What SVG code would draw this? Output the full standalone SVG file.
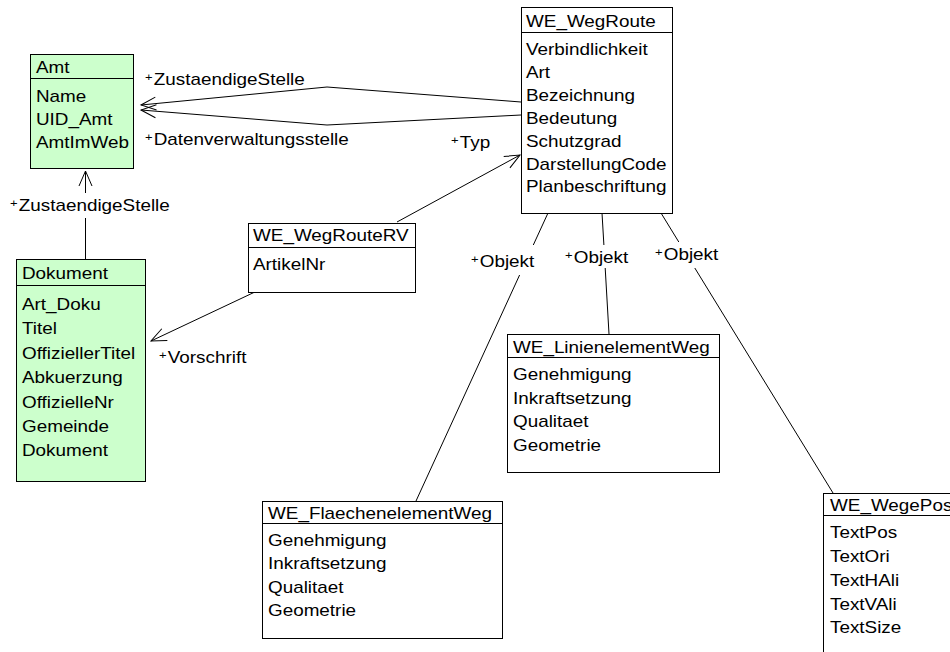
<svg xmlns="http://www.w3.org/2000/svg" width="950" height="652" viewBox="0 0 950 652">
<defs>
<style>
.box{fill:#ffffff;stroke:#000;stroke-width:1}
.grn{fill:#ccffcc}
.sep{stroke:#000;stroke-width:1}
text{font-family:"Liberation Sans",Arial,sans-serif;font-size:16px;fill:#000}
.p{font-size:11px}
.c{fill:none;stroke:#000;stroke-width:1}
.a{marker-end:url(#arr)}
</style>
<marker id="arr" markerUnits="userSpaceOnUse" orient="auto" refX="0" refY="0" markerWidth="40" markerHeight="40" viewBox="-20 -20 40 40" overflow="visible">
<path d="M-15,-6.5 L0,0 L-15,6.5" fill="none" stroke="#000" stroke-width="1"/>
</marker>
</defs>
<rect width="950" height="652" fill="#ffffff"/>

<g id="connectors">
<path class="c a" d="M521,102 L327,87 L141,105"/>
<path class="c a" d="M521,115 L327,125 L141,110"/>
<path class="c a" d="M397,222 L520,155"/>
<path class="c a" d="M257,291 L151,341"/>
<path class="c a" d="M85.5,259 V218 M85.5,193 V171"/>
<path class="c" d="M548,213 L533.3,245 M519.6,275 L416,501"/>
<path class="c" d="M602,213 L603.9,245 M605.2,268 L609,334"/>
<path class="c" d="M661,213 L678.8,242 M694.8,268 L833,493"/>
<text transform="translate(145 85) scale(1.18 1)"><tspan class="p" dy="-4">+</tspan><tspan dx="1" dy="4">ZustaendigeStelle</tspan></text>
<text transform="translate(145 145) scale(1.18 1)"><tspan class="p" dy="-4">+</tspan><tspan dx="1" dy="4">Datenverwaltungsstelle</tspan></text>
<text transform="translate(451 148) scale(1.18 1)"><tspan class="p" dy="-4">+</tspan><tspan dx="1" dy="4">Typ</tspan></text>
<text transform="translate(10 211) scale(1.18 1)"><tspan class="p" dy="-4">+</tspan><tspan dx="1" dy="4">ZustaendigeStelle</tspan></text>
<text transform="translate(159 363) scale(1.18 1)"><tspan class="p" dy="-4">+</tspan><tspan dx="1" dy="4">Vorschrift</tspan></text>
<text transform="translate(471 267) scale(1.18 1)"><tspan class="p" dy="-4">+</tspan><tspan dx="1" dy="4">Objekt</tspan></text>
<text transform="translate(565 263) scale(1.18 1)"><tspan class="p" dy="-4">+</tspan><tspan dx="1" dy="4">Objekt</tspan></text>
<text transform="translate(655 260) scale(1.18 1)"><tspan class="p" dy="-4">+</tspan><tspan dx="1" dy="4">Objekt</tspan></text>
</g>

<g id="Amt">
<rect class="box grn" x="30.5" y="54.5" width="103" height="114"/>
<line class="sep" x1="30.5" y1="78.5" x2="133.5" y2="78.5"/>
<text transform="translate(36 73) scale(1.18 1)">Amt</text>
<text transform="translate(36 102) scale(1.18 1)">Name</text>
<text transform="translate(36 125) scale(1.18 1)">UID_Amt</text>
<text transform="translate(36 148) scale(1.18 1)">AmtImWeb</text>
</g>

<g id="Dokument">
<rect class="box grn" x="16.5" y="259.5" width="129" height="222"/>
<line class="sep" x1="16.5" y1="285.5" x2="145.5" y2="285.5"/>
<text transform="translate(22 279) scale(1.18 1)">Dokument</text>
<text transform="translate(22 310) scale(1.18 1)">Art_Doku</text>
<text transform="translate(22 334.4) scale(1.18 1)">Titel</text>
<text transform="translate(22 358.8) scale(1.18 1)">OffiziellerTitel</text>
<text transform="translate(22 383.2) scale(1.18 1)">Abkuerzung</text>
<text transform="translate(22 407.6) scale(1.18 1)">OffizielleNr</text>
<text transform="translate(22 432) scale(1.18 1)">Gemeinde</text>
<text transform="translate(22 456.4) scale(1.18 1)">Dokument</text>
</g>

<g id="WE_WegRoute">
<rect class="box" x="521.5" y="7.5" width="151" height="206"/>
<line class="sep" x1="521.5" y1="32.5" x2="672.5" y2="32.5"/>
<text transform="translate(526 27) scale(1.18 1)">WE_WegRoute</text>
<text transform="translate(526 55) scale(1.18 1)">Verbindlichkeit</text>
<text transform="translate(526 78) scale(1.18 1)">Art</text>
<text transform="translate(526 101) scale(1.18 1)">Bezeichnung</text>
<text transform="translate(526 124) scale(1.18 1)">Bedeutung</text>
<text transform="translate(526 147) scale(1.18 1)">Schutzgrad</text>
<text transform="translate(526 170) scale(1.18 1)">DarstellungCode</text>
<text transform="translate(526 192) scale(1.18 1)">Planbeschriftung</text>
</g>

<g id="WE_WegRouteRV">
<rect class="box" x="248.5" y="223.5" width="167" height="69"/>
<line class="sep" x1="248.5" y1="247.5" x2="415.5" y2="247.5"/>
<text transform="translate(253 241) scale(1.18 1)">WE_WegRouteRV</text>
<text transform="translate(253 270) scale(1.18 1)">ArtikelNr</text>
</g>

<g id="WE_LinienelementWeg">
<rect class="box" x="507.5" y="334.5" width="212" height="138"/>
<line class="sep" x1="507.5" y1="357.5" x2="719.5" y2="357.5"/>
<text transform="translate(513 353) scale(1.18 1)">WE_LinienelementWeg</text>
<text transform="translate(513 380) scale(1.18 1)">Genehmigung</text>
<text transform="translate(513 404) scale(1.18 1)">Inkraftsetzung</text>
<text transform="translate(513 427) scale(1.18 1)">Qualitaet</text>
<text transform="translate(513 451) scale(1.18 1)">Geometrie</text>
</g>

<g id="WE_FlaechenelementWeg">
<rect class="box" x="262.5" y="501.5" width="240" height="137"/>
<line class="sep" x1="262.5" y1="523.5" x2="502.5" y2="523.5"/>
<text transform="translate(268 519) scale(1.18 1)">WE_FlaechenelementWeg</text>
<text transform="translate(268 546) scale(1.18 1)">Genehmigung</text>
<text transform="translate(268 569) scale(1.18 1)">Inkraftsetzung</text>
<text transform="translate(268 593) scale(1.18 1)">Qualitaet</text>
<text transform="translate(268 616) scale(1.18 1)">Geometrie</text>
</g>

<g id="WE_WegePos">
<rect class="box" x="823.5" y="493.5" width="200" height="200"/>
<line class="sep" x1="823.5" y1="515.5" x2="1023.5" y2="515.5"/>
<text transform="translate(830 511) scale(1.18 1)">WE_WegePos</text>
<text transform="translate(830 538) scale(1.18 1)">TextPos</text>
<text transform="translate(830 562) scale(1.18 1)">TextOri</text>
<text transform="translate(830 586) scale(1.18 1)">TextHAli</text>
<text transform="translate(830 610) scale(1.18 1)">TextVAli</text>
<text transform="translate(830 633) scale(1.18 1)">TextSize</text>
</g>
</svg>
